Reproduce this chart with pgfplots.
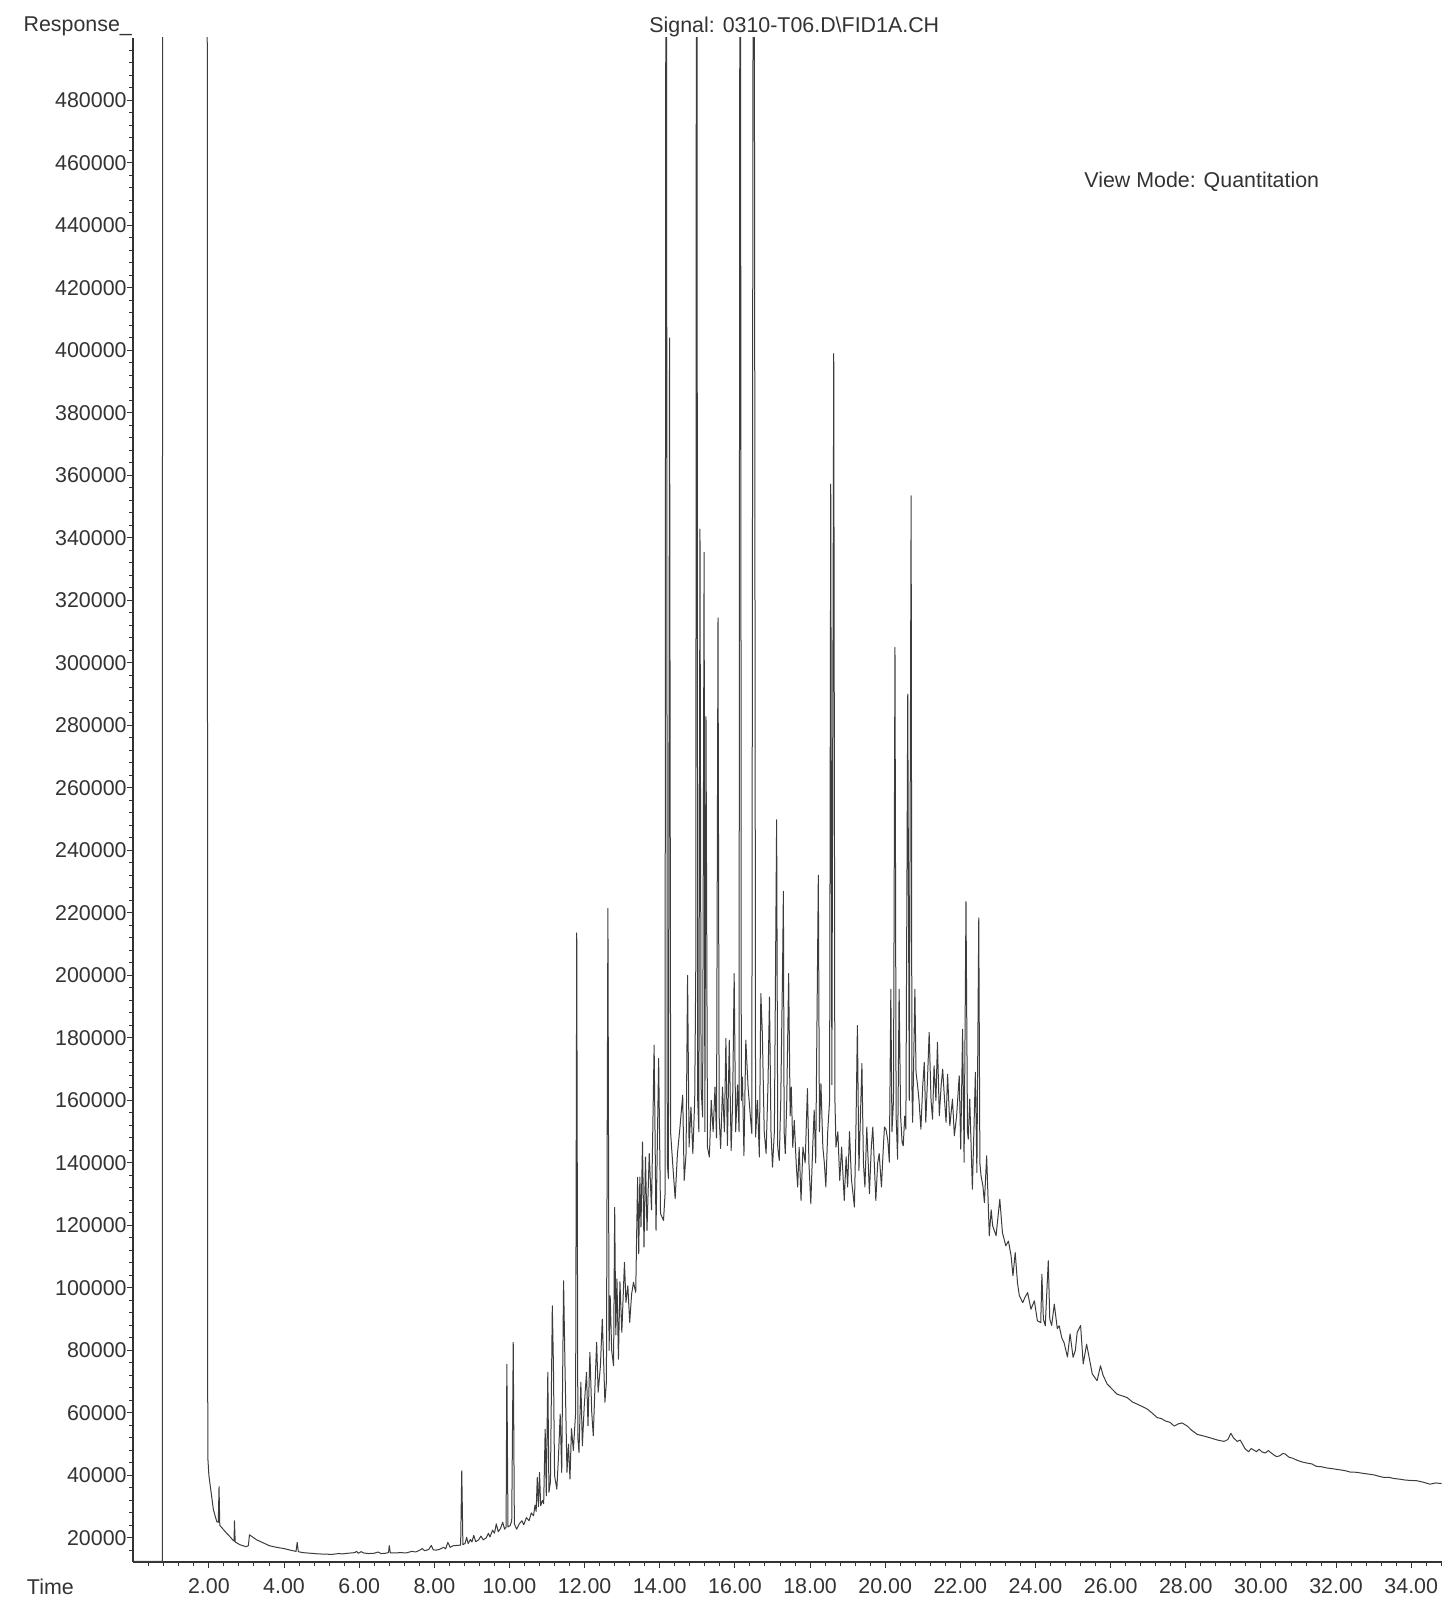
\documentclass[border=0pt]{standalone}
\usepackage{fontspec}
\setmainfont{Liberation Sans}
\usepackage{pgfplots}
\usepackage{pgfplotstable}
\pgfplotsset{compat=1.18}
\definecolor{ink}{HTML}{333333}
\definecolor{trace}{HTML}{3C3C3C}
\pgfplotstableread{
t r
0.00 12500
0.76 12500
0.77 700000
1.95 700000
1.97 46000
2.00 40000
2.05 35400
2.12 29000
2.21 25200
2.25 25000
2.27 36400
2.29 24000
2.35 23200
2.45 21800
2.56 20400
2.64 19300
2.67 19000
2.68 25500
2.70 18700
2.83 17800
2.99 17200
3.05 17500
3.08 21000
3.15 20400
3.27 19400
3.45 18400
3.61 17500
3.80 17000
4.00 16600
4.20 16000
4.32 15700
4.35 18600
4.38 15600
4.50 15300
4.71 15100
4.90 14900
5.10 14800
5.29 14750
5.45 15000
5.55 14900
5.70 15100
5.88 15300
5.93 15700
5.98 15100
6.05 15600
6.12 15200
6.25 15000
6.40 15100
6.50 15500
6.58 15000
6.70 15100
6.78 15300
6.80 17500
6.83 15200
6.95 15200
7.10 15300
7.25 15200
7.40 15700
7.50 15500
7.60 16000
7.68 16600
7.74 15900
7.85 16300
7.92 17600
7.97 16200
8.05 16100
8.15 16400
8.25 17000
8.30 16500
8.36 18600
8.42 17000
8.50 17500
8.60 17600
8.70 17700
8.73 41500
8.76 17800
8.82 18300
8.86 20200
8.90 18200
8.96 19500
9.00 18700
9.05 20800
9.10 18800
9.18 19400
9.24 20600
9.30 19400
9.38 20000
9.44 21500
9.48 20300
9.55 22500
9.60 21500
9.65 24500
9.70 22000
9.76 23000
9.82 25000
9.87 22800
9.91 23500
9.93 75600
9.96 23500
10.02 24000
10.06 25500
10.10 82600
10.13 24500
10.19 22800
10.26 24500
10.33 25500
10.38 24200
10.45 26500
10.52 25500
10.58 28000
10.64 27100
10.68 30500
10.71 28500
10.74 39400
10.77 30000
10.80 41000
10.83 30300
10.88 32000
10.91 31000
10.95 54800
10.98 33500
11.02 73000
11.05 34600
11.09 38000
11.14 94300
11.17 75100
11.20 40000
11.26 35600
11.30 45000
11.35 59600
11.39 41000
11.44 102300
11.48 73000
11.53 41000
11.57 50000
11.61 38800
11.65 55000
11.70 48000
11.76 60000
11.79 213600
11.82 52000
11.85 47400
11.90 69800
11.94 49500
11.99 62300
12.05 73000
12.09 55900
12.14 79400
12.19 60000
12.23 52700
12.28 70000
12.32 82600
12.36 66600
12.42 75000
12.47 90000
12.54 63400
12.58 70000
12.62 221400
12.65 80000
12.68 97500
12.72 80000
12.77 75100
12.80 125800
12.83 85000
12.86 102900
12.90 77200
12.94 102000
12.99 85800
13.06 108200
13.10 95400
13.15 100700
13.20 89000
13.25 98000
13.30 101800
13.36 98600
13.41 135400
13.44 111000
13.47 135500
13.50 119500
13.54 146700
13.58 113100
13.62 141900
13.66 118400
13.72 143000
13.78 125000
13.85 177700
13.90 118400
13.97 173400
14.02 123800
14.10 121600
14.14 130000
14.17 700000
14.20 140000
14.23 135000
14.26 404000
14.29 149400
14.35 138700
14.41 128600
14.47 143000
14.53 150400
14.61 161700
14.65 134400
14.70 143000
14.74 200000
14.78 145100
14.83 157900
14.88 143000
14.93 160000
14.96 204900
14.98 700000
15.01 160000
15.04 150000
15.07 342800
15.10 164300
15.14 154700
15.18 335400
15.20 150000
15.23 282800
15.27 145000
15.32 141900
15.37 160000
15.42 150000
15.47 164300
15.51 148000
15.55 314400
15.58 155000
15.62 144600
15.67 164300
15.72 150000
15.76 179800
15.80 145600
15.85 179300
15.90 144000
15.94 160000
15.98 200600
16.02 150000
16.07 165000
16.11 150000
16.14 700000
16.17 160000
16.20 167500
16.24 142400
16.29 179300
16.35 164300
16.41 155000
16.45 149400
16.50 700000
16.55 148300
16.60 160000
16.65 141900
16.69 194200
16.73 181400
16.78 150000
16.83 143000
16.88 165000
16.92 193100
16.96 150000
17.00 138700
17.05 150000
17.11 249800
17.14 145000
17.18 140800
17.22 160000
17.27 203800
17.29 226900
17.31 150000
17.34 143000
17.38 160000
17.43 200600
17.47 155000
17.50 164300
17.54 145000
17.58 153600
17.63 140000
17.67 132300
17.71 145000
17.76 128000
17.81 145100
17.87 140000
17.93 163800
17.97 140000
18.02 127000
18.07 145000
18.11 156900
18.15 140000
18.22 232100
18.25 150000
18.29 165400
18.34 145100
18.38 140000
18.42 132300
18.47 150000
18.52 160000
18.55 357200
18.58 165000
18.63 399000
18.66 161100
18.69 145100
18.74 150000
18.79 134400
18.84 145100
18.91 128000
18.96 142000
19.00 132300
19.05 150000
19.10 135000
19.18 125900
19.22 150000
19.26 184000
19.30 137600
19.38 171800
19.42 140000
19.46 132300
19.51 151500
19.58 130200
19.63 145000
19.67 151500
19.75 128000
19.80 140000
19.84 143000
19.90 132300
19.95 145000
19.98 151500
20.02 150800
20.07 147200
20.11 140200
20.15 195600
20.18 150000
20.22 160000
20.26 305000
20.29 155000
20.33 141200
20.37 195600
20.41 155000
20.45 146500
20.48 145500
20.52 155000
20.55 150800
20.60 290000
20.64 160000
20.69 353500
20.71 165000
20.73 153000
20.79 195600
20.82 169000
20.86 165000
20.90 160000
20.95 150800
21.00 165000
21.04 172200
21.08 153000
21.12 165000
21.17 181800
21.22 160000
21.26 154000
21.30 171100
21.35 160000
21.39 178600
21.44 155100
21.49 165000
21.53 170000
21.58 160000
21.62 153000
21.66 168400
21.72 151900
21.79 160400
21.84 148700
21.90 155000
21.97 167900
22.01 144400
22.06 182800
22.10 140200
22.15 223600
22.19 150000
22.21 147600
22.25 160400
22.32 131600
22.36 150000
22.40 169000
22.44 136900
22.49 218400
22.52 140000
22.55 135900
22.60 132700
22.64 127300
22.70 142300
22.77 116700
22.82 125000
22.86 119900
22.95 116700
23.05 128400
23.12 117700
23.21 113500
23.28 115000
23.35 110300
23.40 103900
23.46 111300
23.52 101700
23.57 97500
23.66 95300
23.72 97000
23.79 98500
23.88 93200
23.97 95900
24.05 89500
24.14 88900
24.17 104400
24.21 90000
24.26 87900
24.34 108700
24.38 90000
24.43 88000
24.50 94800
24.58 87000
24.63 87900
24.70 84000
24.76 82500
24.85 77900
24.92 85300
25.00 77800
25.06 80000
25.11 85800
25.20 88000
25.27 75700
25.36 82000
25.44 77000
25.51 72500
25.64 70300
25.73 75100
25.80 72000
25.91 69200
26.05 67500
26.17 66000
26.30 65500
26.44 64900
26.58 63500
26.71 62800
26.85 62000
26.98 61200
27.10 60000
27.24 58500
27.35 58200
27.46 57400
27.58 57000
27.69 55800
27.80 56500
27.90 56800
28.04 55800
28.15 54500
28.31 53100
28.48 52600
28.66 52000
28.85 51300
29.02 50900
29.12 51500
29.20 53500
29.27 52000
29.37 50900
29.45 51300
29.50 50200
29.58 48500
29.67 47600
29.74 48600
29.80 48200
29.88 47600
29.95 48400
30.03 47500
30.12 47200
30.20 48000
30.25 47400
30.35 46500
30.42 46000
30.50 46300
30.58 47000
30.64 46900
30.75 45800
30.85 45500
30.95 44900
31.10 44300
31.25 43900
31.35 43700
31.48 42900
31.60 42800
31.75 42400
31.93 42100
32.10 41800
32.25 41500
32.37 41100
32.55 41000
32.70 40700
32.82 40500
33.00 40200
33.15 39700
33.26 39400
33.40 39400
33.55 39000
33.70 38800
33.85 38500
34.00 38400
34.15 38300
34.30 37900
34.50 37200
34.65 37600
34.81 37400
}\chrom
\begin{document}
\begin{tikzpicture}
\path (-66.5pt,-18pt) rectangle (656pt,781pt);
\begin{axis}[
  at={(0pt,0pt)}, anchor=south west,
  scale only axis, width=654.5pt, height=762pt,
  xmin=-0.02, xmax=34.82, ymin=12300, ymax=500000,
  axis x line*=bottom, axis y line*=left,
  axis line style={ink, line width=0.6pt, -},
  x axis line style={-}, y axis line style={-},
  tick align=outside,
  major tick length=3pt, minor tick length=1.8pt,
  tick style={ink, line width=0.5pt},
  xtick={2,4,6,8,10,12,14,16,18,20,22,24,26,28,30,32,34},
  xticklabels={2.00,4.00,6.00,8.00,10.00,12.00,14.00,16.00,18.00,20.00,22.00,24.00,26.00,28.00,30.00,32.00,34.00},
  minor xtick={0.4,0.8,...,34.8},
  ytick={20000,40000,...,480000},
  yticklabels={20000,40000,60000,80000,100000,120000,140000,160000,180000,200000,220000,240000,260000,280000,300000,320000,340000,360000,380000,400000,420000,440000,460000,480000},
  minor ytick={16000,20000,...,496000},
  scaled y ticks=false, scaled x ticks=false,
  tick label style={font=\fontsize{10.7}{12.8}\selectfont, text=ink},
  yticklabel style={anchor=east, inner sep=0pt, xshift=0pt},
  xticklabel style={anchor=base, inner sep=0pt, yshift=-12.5pt},
  clip=true,
]
\addplot[trace, line width=0.5pt, line join=round, mark=none] table[x=t,y=r]{\chrom};
\end{axis}
\begin{scope}[every node/.style={inner sep=0pt, font=\fontsize{10.7}{12.8}\selectfont, text=ink}]
\node[anchor=base west] at (-54.9pt,765.4pt) {Response\_};
\node[anchor=base west] at (258pt,764.5pt) {Signal: 0310-T06.D\textbackslash FID1A.CH};
\node[anchor=base west] at (475.5pt,687pt) {View Mode: Quantitation};
\node[anchor=base west] at (-53.2pt,-16.2pt) {Time};
\end{scope}
\end{tikzpicture}
\end{document}
